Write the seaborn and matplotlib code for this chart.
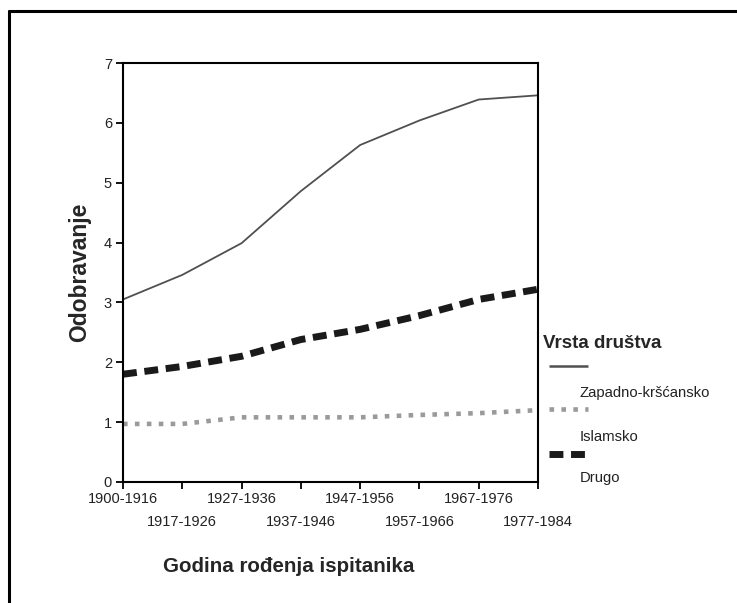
import matplotlib
matplotlib.use("Agg")
import matplotlib.pyplot as plt
from matplotlib.lines import Line2D
import seaborn as sns
import pandas as pd

# birth cohorts on the x axis
cohorts = [
    "1900-1916", "1917-1926", "1927-1936", "1937-1946",
    "1947-1956", "1957-1966", "1967-1976", "1977-1984",
]

zapadno = [3.05, 3.46, 3.99, 4.86, 5.63, 6.04, 6.39, 6.46]
islamsko = [0.97, 0.97, 1.08, 1.08, 1.08, 1.12, 1.15, 1.20]
drugo = [1.80, 1.93, 2.10, 2.38, 2.55, 2.78, 3.05, 3.22]

series_names = ["Zapadno-kršćansko", "Islamsko", "Drugo"]
y_ticks = [0, 1, 2, 3, 4, 5, 6, 7]

df = pd.DataFrame(
    {
        "Kohorta": list(range(len(cohorts))) * 3,
        "Odobravanje": zapadno + islamsko + drugo,
        "Vrsta": [n for n in series_names for _ in cohorts],
    }
)

sns.set_theme(style="white")
plt.rcParams["font.family"] = ["Liberation Sans", "DejaVu Sans"]

# dashes are in units of line width (matplotlib scales them)
styles = {
    "Zapadno-kršćansko": dict(color="#505050", lw=1.3, dashes=None),
    "Islamsko": dict(color="#9a9a9a", lw=3.3, dashes=(1.0, 1.6)),
    "Drugo": dict(color="#1a1a1a", lw=5.0, dashes=(2.0, 1.1)),
}

fig = plt.figure(figsize=(7.37, 6.03), dpi=100)
ax = fig.add_axes([0.1669, 0.2007, 0.5631, 0.6948])

for name in series_names:
    st = styles[name]
    sns.lineplot(
        data=df[df["Vrsta"] == name],
        x="Kohorta",
        y="Odobravanje",
        color=st["color"],
        linewidth=st["lw"],
        ax=ax,
        legend=False,
    )
    line = ax.lines[-1]
    if st["dashes"] is not None:
        line.set_dashes(list(st["dashes"]))
    line.set_solid_capstyle("butt")
    line.set_dash_capstyle("butt")

ax.set_xlim(0, len(cohorts) - 1)
ax.set_ylim(0, 7)
ax.set_xticks(range(len(cohorts)))
ax.set_xticklabels(cohorts, fontsize=10.5, color="#222222")
ax.set_yticks(y_ticks)
ax.set_yticklabels([str(v) for v in y_ticks], fontsize=10.5, color="#222222")
ax.tick_params(axis="both", direction="out", length=5, width=1.3, color="black",
               bottom=True, left=True)
ax.tick_params(axis="x", pad=2)
ax.tick_params(axis="y", pad=3)
for i, tick in enumerate(ax.xaxis.get_major_ticks()):
    if i % 2 == 1:
        tick.set_pad(19)

for side in ["left", "right", "top", "bottom"]:
    ax.spines[side].set_visible(True)
    ax.spines[side].set_color("black")
    ax.spines[side].set_linewidth(1.5)

ax.set_xlabel("Godina rođenja ispitanika", fontsize=14.8, fontweight="bold")
ax.xaxis.set_label_coords(0.40, -0.18)
ax.set_ylabel("Odobravanje", fontsize=16.5, fontweight="bold", labelpad=9)

# legend drawn by hand: handle above each label
W, H = 737.0, 603.0
fig.text(543 / W, 1 - 344 / H, "Vrsta društva", fontsize=13.5, fontweight="bold",
         ha="left", va="center")
handle_y = [366, 409, 454]
label_y = [393, 437, 478]
for name, hy, ly in zip(series_names, handle_y, label_y):
    st = styles[name]
    ln = Line2D([549 / W, 588 / W], [1 - hy / H, 1 - hy / H], transform=fig.transFigure,
                color=st["color"], linewidth=st["lw"] if st["dashes"] else 1.8,
                solid_capstyle="butt", dash_capstyle="butt")
    if st["dashes"] is not None:
        ln.set_dashes(list(st["dashes"]))
    fig.add_artist(ln)
    fig.text(580 / W, 1 - ly / H, name, fontsize=10.7, color="#222222", ha="left", va="center")

# frame lines on top and left of the picture
fig.add_artist(Line2D([9 / W, 1], [1 - 11 / H, 1 - 11 / H], transform=fig.transFigure,
                      color="black", linewidth=2.2))
fig.add_artist(Line2D([9 / W, 9 / W], [0, 1 - 11 / H], transform=fig.transFigure,
                      color="black", linewidth=2.2))

fig.savefig("out.png", dpi=100, facecolor="white")
